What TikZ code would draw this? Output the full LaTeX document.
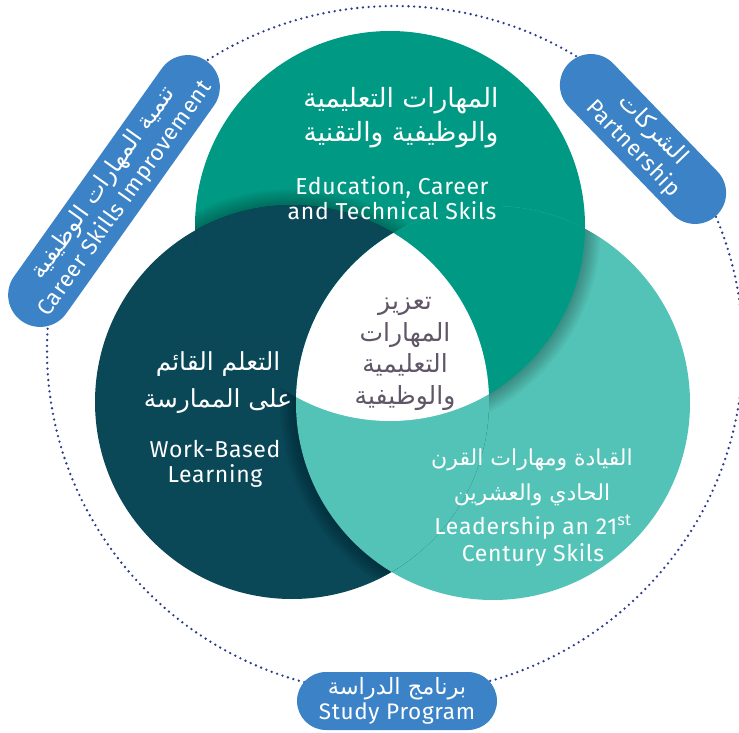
\documentclass[tikz,border=0pt]{standalone}
\usepackage{fontspec}
\setmainfont{Fira Sans}[LetterSpace=3]
\newfontfamily\arabicfont[Script=Arabic]{DejaVu Sans}
\TeXXeTstate=1
\usetikzlibrary{shapes.misc}
\definecolor{cgreen}{HTML}{009A84}
\definecolor{cdark}{HTML}{0A4757}
\definecolor{clight}{HTML}{53C3B7}
\definecolor{cpill}{HTML}{3B83C6}
\definecolor{cdot}{HTML}{2B3C8C}
\definecolor{cgray}{HTML}{5F5667}
\newcommand{\artxt}[1]{{\arabicfont\beginR #1\endR}}
\newcommand{\bigartxt}[1]{{\arabicfont\fontsize{23.5}{27}\selectfont\beginR #1\endR}}
\begin{document}
\begin{tikzpicture}[x=1pt,y=-1pt,
  pill/.style={rounded rectangle, fill=cpill, text=white, align=center, inner sep=0pt,
    font=\fontsize{22.5}{27}\selectfont},
  artext/.style={text=white, align=center, font=\fontsize{26.5}{34}\selectfont},
  entext/.style={text=white, align=center, font=\fontsize{23}{25}\selectfont},
  shadowring/.style={draw=black, opacity=0.035},
  dotring/.style={draw=cdot, line width=2.6pt, line cap=round, dash pattern=on 0pt off 5.7pt}]
\useasboundingbox (0,0) rectangle (739,733);
\coordinate (gc) at (390,226);
\coordinate (dc) at (292,402);
\coordinate (lc) at (493,403);
\coordinate (oc) at (395,350);
% dotted outer ring
\draw[dotring] (oc) ellipse [x radius=348pt, y radius=344pt];
% base circles
\fill[cgreen] (gc) circle[radius=195pt];
\fill[clight] (lc) circle[radius=197pt];
\fill[cdark] (dc) circle[radius=197pt];
% soft shadows cast by the upper circle onto the lower one
\begin{scope}
  \clip (gc) circle[radius=195pt];
  \foreach \w in {4,8,...,32} {\draw[shadowring, line width=\w pt] (dc) circle[radius=197pt];}
\end{scope}
\begin{scope}
  \clip (lc) circle[radius=197pt];
  \foreach \w in {4,8,...,32} {\draw[shadowring, line width=\w pt] (gc) circle[radius=195pt];}
\end{scope}
\begin{scope}
  \clip (dc) circle[radius=197pt];
  \foreach \w in {4,8,...,32} {\draw[shadowring, line width=\w pt] (lc) circle[radius=197pt];}
\end{scope}
% overlaps
\begin{scope}
  \clip (dc) circle[radius=197pt];
  \fill[cdark] (gc) circle[radius=195pt];
\end{scope}
\begin{scope}
  \clip (gc) circle[radius=195pt];
  \fill[cgreen] (lc) circle[radius=197pt];
\end{scope}
\begin{scope}
  \clip (lc) circle[radius=197pt];
  \fill[clight] (dc) circle[radius=197pt];
\end{scope}
\begin{scope}
  \clip (dc) circle[radius=197pt];
  \clip (gc) circle[radius=195pt];
  \fill[white] (lc) circle[radius=197pt];
\end{scope}
% texts in circles
\node[artext] (gar) at (401,118) {\artxt{المهارات التعليمية}\\\artxt{والوظيفية والتقنية}};
\node[entext] (gen) at (392,198) {Education, Career\\and Technical Skils};
\node[artext, font=\fontsize{24.8}{37}\selectfont] (dar) at (218,383) {\artxt{التعلم القائم}\\\artxt{على الممارسة}};
\node[entext] (den) at (215,464) {Work-Based\\Learning};
\node[artext, font=\fontsize{22}{35}\selectfont] (lar) at (532,477) {\artxt{القيادة ومهارات القرن}\\\artxt{الحادي والعشرين}};
\node[entext, font=\fontsize{23}{27}\selectfont] (len) at (533,541) {Leadership an 21\textsuperscript{st}\\Century Skils};
\node[artext, text=cgray, font=\fontsize{25}{31.7}\selectfont] (car) at (405,354) {\artxt{تعزيز}\\\artxt{المهارات}\\\artxt{التعليمية}\\\artxt{والوظيفية}};
% pills
\node[pill, minimum width=319pt, minimum height=64pt, rotate=54.6] (lp) at (114,191)
  {\bigartxt{تنمية المهارات الوظيفية}\\Career Skills Improvement};
\node[pill, minimum width=212pt, minimum height=62pt, rotate=-46] (rp) at (643,139)
  {\bigartxt{الشركات}\\Partnership};
\node[pill, minimum width=200pt, minimum height=58pt, font=\fontsize{22.5}{25}\selectfont] (bp) at (397,701)
  {\artxt{برنامج الدراسة}\\Study Program};
\end{tikzpicture}
\end{document}
